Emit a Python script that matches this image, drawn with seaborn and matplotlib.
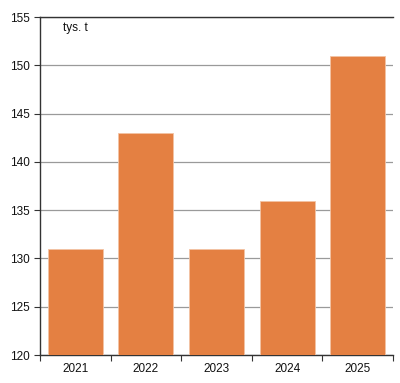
import matplotlib
matplotlib.use("Agg")
import matplotlib.pyplot as plt
import seaborn as sns
import pandas as pd
import numpy as np

years = ["2021", "2022", "2023", "2024", "2025"]
values = [131, 143, 131, 136, 151]
yticks = [120, 125, 130, 135, 140, 145, 150, 155]
unit_label = "tys. t"

sns.set_style("white")
plt.rcParams['font.family'] = ['Liberation Sans', 'DejaVu Sans']

df = pd.DataFrame({"year": years, "value": values})

fig = plt.figure(figsize=(4.0, 3.83), dpi=100)
ax = fig.add_axes([0.1, 0.073, 0.8825, 0.8826])

sns.barplot(data=df, x="year", y="value", color="#E48042", saturation=1,
            width=0.78, edgecolor="#F3C3A4", linewidth=0.6, ax=ax, zorder=3)

ax.set_ylim(120, 155)
ax.set_xlim(-0.5, len(years) - 0.5)
ax.set_yticks(yticks)
ax.yaxis.grid(True, color="#9a9a9a", linewidth=0.9, zorder=0)
ax.set_axisbelow(True)
ax.set_xlabel("")
ax.set_ylabel("")

for s in ["left", "bottom", "top"]:
    ax.spines[s].set_visible(True)
    ax.spines[s].set_color("#333333")
    ax.spines[s].set_linewidth(1.0)
ax.spines["right"].set_visible(False)

ax.tick_params(axis="y", which="major", left=True, length=4, width=0.8,
               color="#333333", labelsize=8.5, pad=3, labelcolor="#111111")
ax.tick_params(axis="x", which="major", bottom=False, length=0, labelsize=8.5,
               pad=6, labelcolor="#111111")
ax.set_xticks(np.arange(-0.5, len(years) + 0.5, 1), minor=True)
ax.tick_params(axis="x", which="minor", bottom=True, length=4, width=0.8,
               color="#333333")

ax.text(0.065, 0.985, unit_label, transform=ax.transAxes, ha="left", va="top",
        fontsize=8.5, color="#111111")

fig.savefig("out.png", dpi=100)
